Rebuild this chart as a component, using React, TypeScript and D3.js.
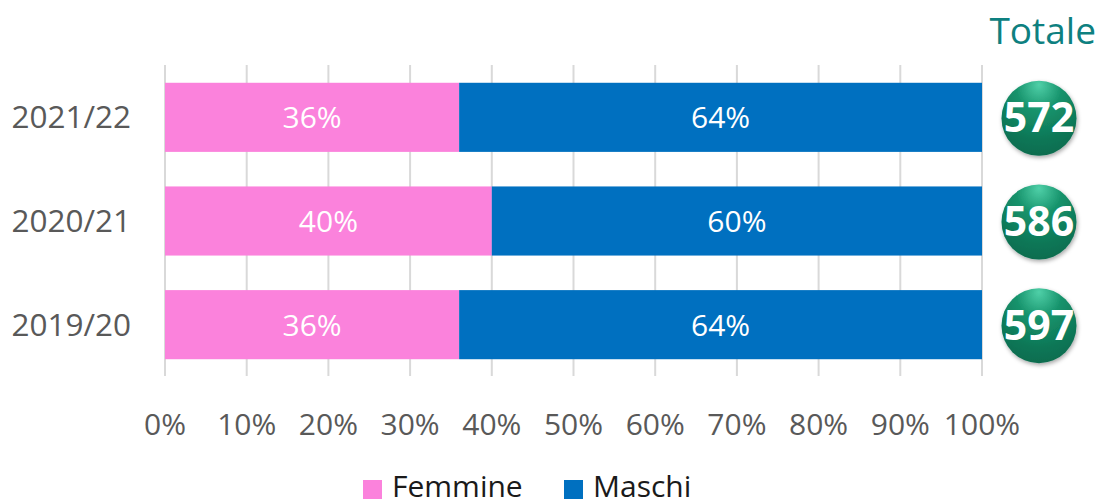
import * as d3 from "d3";

const years = ["2021/22", "2020/21", "2019/20"];
const femmine = [36, 40, 36];
const maschi = [64, 60, 64];
const totali = [572, 586, 597];
const ticks = [0, 10, 20, 30, 40, 50, 60, 70, 80, 90, 100];
const seriesNames = ["Femmine", "Maschi"];
const seriesColors = ["#fb82dc", "#0070c0"];

const W = 1101;
const H = 503;
const FONT = "'Open Sans', sans-serif";

export default function App() {
  const x = d3.scaleLinear().domain([0, 100]).range([165, 982]);
  const y = d3
    .scaleBand<string>()
    .domain(years)
    .range([65.5, 376.5])
    .paddingInner(1 / 3)
    .paddingOuter(1 / 6);
  const bw = y.bandwidth();

  return (
    <svg
      width={W}
      height={H}
      style={{ position: "absolute", left: 0, top: 0, fontFamily: FONT }}
    >
      <defs>
        <radialGradient id="ball" cx="50%" cy="20%" r="85%" fx="50%" fy="5%">
          <stop offset="0%" stopColor="#4fd0a8" />
          <stop offset="35%" stopColor="#17936c" />
          <stop offset="75%" stopColor="#0c7656" />
          <stop offset="100%" stopColor="#0a6a4d" />
        </radialGradient>
        <filter id="shadow" x="-30%" y="-30%" width="160%" height="160%">
          <feDropShadow dx="1" dy="2" stdDeviation="2" floodColor="#000" floodOpacity="0.35" />
        </filter>
      </defs>

      {/* griglia */}
      {ticks.map((t) => (
        <line
          key={t}
          x1={x(t)}
          x2={x(t)}
          y1={65}
          y2={376}
          stroke="#d9d9d9"
          strokeWidth={2}
        />
      ))}

      {/* barre */}
      {years.map((yr, i) => {
        const y0 = y(yr) || 0;
        const vals = [femmine[i], maschi[i]];
        let acc = 0;
        return (
          <g key={yr}>
            {vals.map((v, j) => {
              const start = acc;
              acc += v;
              return (
                <g key={j}>
                  <rect
                    x={x(start)}
                    y={y0}
                    width={x(start + v) - x(start)}
                    height={bw}
                    fill={seriesColors[j]}
                  />
                  <text
                    x={(x(start) + x(start + v)) / 2}
                    y={y0 + bw / 2 + 11}
                    textAnchor="middle"
                    fill="#fff"
                    fontSize={30}
                  >
                    {v}%
                  </text>
                </g>
              );
            })}
            <text
              x={131}
              y={y0 + bw / 2 + 11}
              textAnchor="end"
              fill="#595959"
              fontSize={31.5}
            >
              {yr}
            </text>
            <g filter="url(#shadow)">
              <circle cx={1039} cy={y0 + bw / 2 + 1} r={37.5} fill="url(#ball)" />
            </g>
            <text
              x={1039}
              y={y0 + bw / 2 + 15}
              textAnchor="middle"
              fill="#fff"
              fontSize={41}
              fontWeight="bold"
            >
              {totali[i]}
            </text>
          </g>
        );
      })}

      {/* etichette asse x */}
      {ticks.map((t) => (
        <text
          key={t}
          x={x(t)}
          y={435}
          textAnchor="middle"
          fill="#595959"
          fontSize={30}
        >
          {t}%
        </text>
      ))}

      <text x={1096} y={44} textAnchor="end" fill="#0e8080" fontSize={37}>
        Totale
      </text>

      {/* legenda */}
      {seriesNames.map((s, j) => {
        const lx = j === 0 ? 363 : 564;
        return (
          <g key={s}>
            <rect x={lx} y={480} width={19} height={19} fill={seriesColors[j]} />
            <text x={lx + 29} y={497} fill="#1a1a1a" fontSize={30}>
              {s}
            </text>
          </g>
        );
      })}
    </svg>
  );
}
